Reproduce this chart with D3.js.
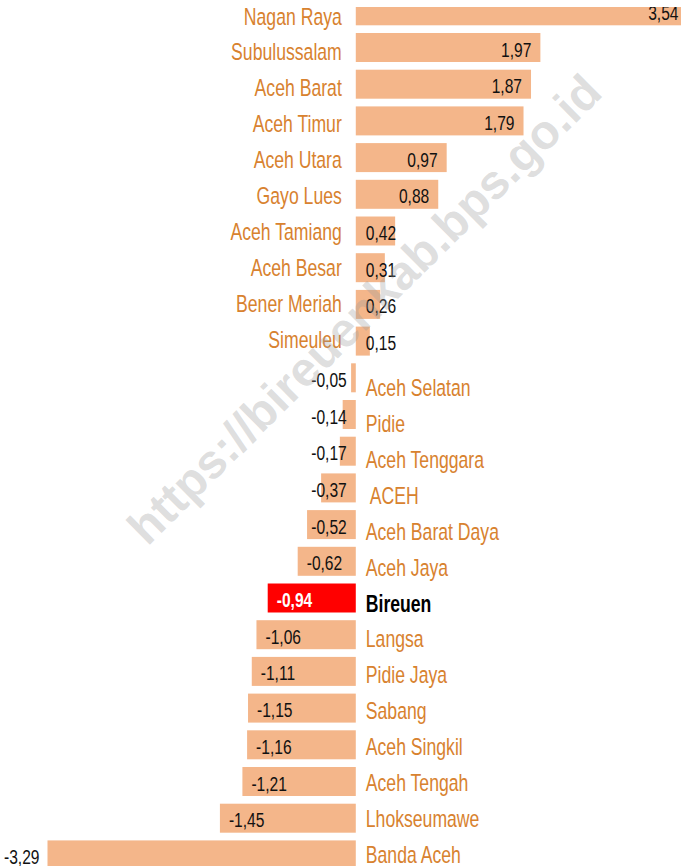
<!DOCTYPE html>
<html>
<head>
<meta charset="utf-8">
<script src="https://cdn.jsdelivr.net/npm/d3@7"></script>
<style>
  body { margin: 0; background: #fff; }
  svg { display: block; }
  text { font-family: "Liberation Sans", Arial, sans-serif; }
</style>
</head>
<body>
<div id="chart"></div>
<script>
'use strict';

// kabupaten / kota, urut dari nilai terbesar
var regions = ['Nagan Raya', 'Subulussalam', 'Aceh Barat', 'Aceh Timur', 'Aceh Utara', 'Gayo Lues',
    'Aceh Tamiang', 'Aceh Besar', 'Bener Meriah', 'Simeuleu', 'Aceh Selatan', 'Pidie',
    'Aceh Tenggara', ' ACEH', 'Aceh Barat Daya', 'Aceh Jaya', 'Bireuen', 'Langsa',
    'Pidie Jaya', 'Sabang', 'Aceh Singkil', 'Aceh Tengah', 'Lhokseumawe', 'Banda Aceh']
var values = [3.54, 1.97, 1.87, 1.79, 0.97, 0.88, 0.42, 0.31, 0.26, 0.15, -0.05, -0.14,
    -0.17, -0.37, -0.52, -0.62, -0.94, -1.06, -1.11, -1.15, -1.16, -1.21, -1.45, -3.29]
var highlight = 'Bireuen'
var watermark = 'https://bireuenkab.bps.go.id'

var W = 681, H = 866
var barColor = '#f4b68a', hiColor = '#ff0000', labelColor = '#d8822f'
// huruf sempit (narrow) ditiru dengan skala horizontal
var sx = 0.82, sy = 1.1

var rows = regions.map(function(r, i) { return {name: r, v: values[i]} })

var svg = d3.select('#chart').append('svg')
    .attr('width', W)
    .attr('height', H)

svg.append('defs').append('clipPath')
    .attr('id', 'clip')
  .append('rect')
    .attr('x', 0).attr('y', 7).attr('width', W).attr('height', H - 7)

var g = svg.append('g').attr('clip-path', 'url(#clip)')

var x = d3.scaleLinear()
    .domain([d3.min(values), d3.max(values)])
    .range([47.5, 687.5])

var y = d3.scaleBand()
    .domain(regions)
    .range([-7.55, -7.55 + regions.length * 36.7])
    .paddingInner(0.21)
    .paddingOuter(0.105)

// label kategori sedikit lebih rapat dari batang
var yl = d3.scalePoint()
    .domain(regions)
    .range([24.5, 24.5 + (regions.length - 1) * 35.9])

var fmt = function(v) { return d3.format('.2f')(v).replace('.', ',').replace('\u2212', '-') }
var place = function(px, py) { return 'translate(' + px + ',' + py + ') scale(' + sx + ',' + sy + ')' }

g.selectAll('rect.bar').data(rows)
  .enter().append('rect')
    .attr('class', 'bar')
    .attr('x', function(d) { return x(Math.min(0, d.v)) })
    .attr('width', function(d) { return Math.abs(x(d.v) - x(0)) })
    .attr('y', function(d) { return y(d.name) })
    .attr('height', y.bandwidth())
    .attr('fill', function(d) { return d.name == highlight ? hiColor : barColor })

// nama wilayah
g.selectAll('text.name').data(rows)
  .enter().append('text')
    .attr('class', 'name')
    .style('white-space', 'pre')
    .style('font-size', '21.5px')
    .style('font-weight', function(d) { return d.name == highlight ? 'bold' : null })
    .attr('fill', function(d) { return d.name == highlight ? '#000' : labelColor })
    .attr('text-anchor', function(d) { return d.v >= 0 ? 'end' : 'start' })
    .attr('transform', function(d) {
        return place(d.v >= 0 ? x(0) - 14 : x(0) + 10, yl(d.name) + (d.v >= 0 ? 0 : 12.6))
    })
    .text(function(d) { return d.name })

// nilai
var minV = d3.min(values)
g.selectAll('text.val').data(rows)
  .enter().append('text')
    .attr('class', 'val')
    .style('font-size', '19px')
    .style('font-weight', function(d) { return d.name == highlight ? 'bold' : null })
    .attr('fill', function(d) { return d.name == highlight ? '#fff' : '#111' })
    .text(function(d) { return fmt(d.v) })
    .each(function(d) {
        var w = this.getComputedTextLength() * sx
        var px
        if (d.v >= 0) px = Math.max(x(d.v) - 9, x(0) + 10 + w) - w
        else if (d.v == minV) px = x(d.v) - 8 - w
        else px = Math.min(x(d.v) + 9, x(0) - 9 - w)
        d3.select(this).attr('transform', place(px, y(d.name) + y.bandwidth() / 2 + 9))
    })

// watermark
svg.append('text')
    .attr('transform', 'translate(364,309) rotate(-44.7)')
    .attr('text-anchor', 'middle')
    .attr('dy', '0.35em')
    .style('font-weight', 'bold')
    .style('font-size', '48px')
    .attr('fill', '#9a9a9a')
    .attr('fill-opacity', 0.33)
    .text(watermark)
</script>
</body>
</html>
